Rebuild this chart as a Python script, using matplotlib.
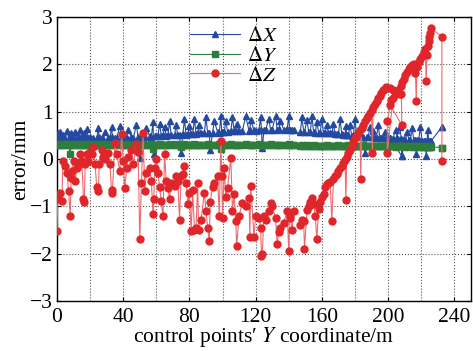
import numpy as np
import matplotlib
matplotlib.use("Agg")
import matplotlib.pyplot as plt
from matplotlib.ticker import MultipleLocator

plt.rcParams['font.family'] = ['Liberation Serif', 'DejaVu Serif']
plt.rcParams['mathtext.fontset'] = 'stix'

nan = np.nan

# control point Y coordinate (m), in survey order
coord_y = [
    0, 0.5, 1, 2, 3, 3.5, 5, 6, 7, 8, 8.5, 9, 10, 11, 12, 13, 14, 15, 16, 16.5, 17, 18, 19, 20,
    21, 22, 23, 24, 25, 25.5, 27, 28, 29, 31, 32, 33, 33.5, 35, 36, 38, 39, 40,
    41, 42, 43, 45, 46, 48, 49, 50, 51, 52, 53, 54, 56, 57, 58, 58.5, 59, 60,
    61, 62, 63, 64, 65, 66, 67, 68, 69, 71, 72, 73, 74, 75, 76, 77, 78, 79, 80,
    81, 82, 83, 84, 85, 85.5, 87, 89, 90, 91, 92, 92.5, 94, 95, 97, 98, 99, 99.5, 100,
    101, 102, 103, 105, 106, 107, 108, 108.5, 110, 112, 114, 116, 116.5, 117, 119, 120, 122, 123, 123.5, 124, 125,
    126, 128, 129, 130, 132, 133, 134, 135, 137, 139, 140, 140.5, 141, 142, 143,
    145, 147, 148, 149, 149.5, 151, 152, 153, 154, 155, 156, 157, 158, 159, 160, 161, 162, 163, 164,
    165, 166, 167, 168, 169, 170, 171, 172, 173, 174, 174.5, 175, 176, 177, 178, 179, 180, 181, 182, 183,
    183.5, 184, 185, 186, 187, 188, 189, 190, 190.5, 191, 192, 193, 194, 195, 196, 197, 198, 199,
    201, 203, 205, 207, 208, 208.3, 201, 202, 199.5, 199.5, 203, 204.5, 206, 207.5, 208.5, 209.5, 210.5, 211.5, 212.5, 213.5,
    214.5, 215.5, 216.5, 217, 217.5, 218.5, 219.5, 220.5, 221.5, 222.5, 223, 223.5, 224, 224.5, 225, 225.5, 226, 232.5, 232.5,
]

# errors (mm)
err_x = [
    0.45, 0.55, 0.42, 0.58, 0.43, 0.50, 0.42, 0.60, 0.44, 0.40, 0.55, 0.43, 0.45, 0.58, 0.42, 0.47, 0.62, 0.44, 0.43, 0.56, 0.45, 0.63, 0.44, 0.46,
    0.43, 0.45, 0.30, 0.44, 0.65, 0.46, 0.44, 0.42, 0.58, 0.45, 0.44, 0.68, 0.46, 0.45, 0.44, 0.70, 0.47, 0.45,
    0.46, 0.45, 0.62, 0.47, 0.44, 0.72, 0.46, 0.02, 0.48, 0.46, 0.47, 0.66, 0.48, 0.47, 0.78, 0.10, 0.49, 0.48,
    0.49, 0.75, 0.48, 0.50, 0.68, 0.49, 0.50, 0.80, 0.50, 0.51, 0.72, 0.50, 0.51, 0.13, 0.52, 0.84, 0.51, 0.52, 0.70,
    0.52, 0.53, 0.85, 0.53, 0.54, 0.72, 0.54, 0.55, 0.88, 0.55, 0.56, 0.20, 0.56, 0.80, 0.57, 0.56, 0.90, 0.57, 0.58,
    0.58, 0.80, 0.58, 0.59, 0.88, 0.59, 0.60, 0.74, 0.60, 0.60, 0.90, 0.60, 0.61, 0.82, 0.61, 0.60, 0.61, 0.88, 0.62, 0.23, 0.61,
    0.62, 0.85, 0.62, 0.62, 0.92, 0.62, 0.63, 0.80, 0.62, 0.63, 0.90, 0.62, 0.62, 0.62, 0.62,
    nan, 0.58, 0.88, 0.58, 0.58, 0.82, 0.57, 0.57, 0.90, 0.57, 0.56, 0.78, 0.56, 0.56, 0.85, 0.55, 0.55, 0.72, 0.55,
    0.54, 0.54, 0.75, 0.53, 0.53, 0.52, 0.85, 0.52, 0.51, 0.51, 0.70, 0.50, 0.50, 0.72, 0.49, 0.49, 0.85, 0.48, 0.48, 0.48,
    0.65, 0.47, 0.47, 0.12, 0.47, 0.46, 0.68, 0.46, 0.46, 0.60, 0.45, 0.45, 0.72, 0.45, 0.44, 0.44, 0.58, 0.44,
    0.44, 0.43, 0.43, 0.68, 0.43, 0.06, 0.44, 0.43, 0.44, 0.44, 0.43, 0.62, 0.42, 0.42, 0.06, 0.42, 0.41, 0.58, 0.41, 0.41,
    0.66, 0.40, 0.40, 0.10, 0.40, 0.40, 0.68, 0.39, 0.39, 0.39, 0.06, 0.39, 0.62, 0.38, 0.38, 0.38, 0.38, 0.68, 0.68,
]

err_y = [
    0.30, 0.31, 0.30, 0.29, 0.31, 0.30, 0.30, 0.31, 0.29, 0.10, 0.30, 0.31, 0.30, 0.30, 0.31, 0.29, 0.30, 0.31, 0.30, 0.30, 0.29, 0.31, 0.30, 0.30,
    0.30, 0.31, 0.30, 0.30, 0.29, 0.31, 0.30, 0.30, 0.31, 0.30, 0.30, 0.30, 0.31, 0.29, 0.30, 0.31, 0.30, 0.30,
    0.30, 0.31, 0.30, 0.30, 0.30, 0.31, 0.30, 0.29, 0.30, 0.31, 0.30, 0.30, 0.30, 0.31, 0.22, 0.30, 0.30, 0.30,
    0.30, 0.31, 0.30, 0.30, 0.30, 0.29, 0.30, 0.31, 0.30, 0.30, 0.31, 0.30, 0.30, 0.25, 0.30, 0.31, 0.30, 0.30, 0.30,
    0.30, 0.30, 0.31, 0.30, 0.30, 0.30, 0.29, 0.30, 0.30, 0.31, 0.30, 0.30, 0.30, 0.30, 0.30, 0.31, 0.22, 0.30, 0.30,
    0.30, 0.30, 0.30, 0.31, 0.30, 0.30, 0.30, 0.29, 0.30, 0.30, 0.31, 0.30, 0.30, 0.30, 0.29, 0.30, 0.31, 0.30, 0.30, 0.30, 0.30,
    0.30, 0.30, 0.31, 0.30, 0.30, 0.30, 0.29, 0.30, 0.30, 0.30, 0.31, 0.30, 0.30, 0.30, 0.30,
    nan, 0.28, 0.29, 0.28, 0.28, 0.29, 0.28, 0.28, 0.28, 0.29, 0.28, 0.28, 0.28, 0.27, 0.28, 0.28, 0.28, 0.29, 0.28,
    0.28, 0.28, 0.27, 0.28, 0.28, 0.29, 0.28, 0.28, 0.27, 0.28, 0.28, 0.28, 0.29, 0.28, 0.27, 0.28, 0.28, 0.28, 0.28, 0.27,
    0.28, 0.28, 0.29, 0.28, 0.28, 0.27, 0.28, 0.28, 0.28, 0.28, 0.27, 0.28, 0.28, 0.28, 0.27, 0.28, 0.28, 0.27,
    0.27, 0.27, 0.28, 0.27, 0.27, 0.27, 0.27, 0.28, 0.27, 0.27, 0.27, 0.26, 0.27, 0.27, 0.27, 0.26, 0.27, 0.27, 0.26, 0.27,
    0.27, 0.26, 0.27, 0.26, 0.27, 0.26, 0.27, 0.26, 0.26, 0.27, 0.26, 0.26, 0.27, 0.26, 0.26, 0.26, 0.26, 0.24, 0.24,
]

err_z = [
    -1.53, -0.85, -0.75, -0.72, -0.89, -0.05, -0.15, -0.30, -0.68, -1.21, -0.40, -0.25, -0.04, -0.47, -0.20, -0.10, 0.10, -0.05, -0.85, -0.92, -0.10, 0.10, -0.04, 0.15,
    0.10, 0.25, -0.10, -0.60, -0.68, -0.10, 0.20, 0.05, 0.00, 0.13, -0.10, -0.72, -0.65, 0.34, 0.10, -0.25, 0.52, -0.05,
    -0.61, -0.20, 0.05, 0.20, -0.10, 0.32, 0.15, -1.70, -0.50, 0.56, -0.68, -0.30, -0.20, -0.47, -1.17, -0.85, -0.20, 0.00,
    -0.30, -0.60, -0.89, -1.21, 0.10, -0.47, -0.61, -0.85, -0.50, -0.57, -0.35, -0.47, -1.28, -0.36, -0.32, -0.15, -0.50, -0.95, -0.72,
    -1.53, -0.66, -1.50, -1.45, -0.50, -1.50, -1.30, -0.72, -1.10, -1.46, -1.74, -0.90, -0.60, -0.50, -0.35, -1.20, 0.38, -0.37, -1.25,
    -0.19, -0.80, -0.61, 0.02, -1.10, -0.75, -1.32, -1.85, -1.20, -0.93, -1.00, -0.83, -1.64, -0.57, -1.64, -1.20, -1.25, -1.46, -2.06, -2.00, -1.20,
    -1.30, -1.10, -0.93, -1.00, -1.25, -1.79, -1.55, -1.46, -1.35, -1.10, -1.95, -1.20, -1.25, -1.50, -1.10,
    nan, -1.40, -1.30, -1.32, -1.91, -1.07, -1.00, -0.90, -0.83, -0.95, -1.21, -1.70, -1.05, -0.90, -0.80, -0.75, -0.60, -0.53, -0.50,
    -0.48, -1.32, -0.42, -0.36, -0.32, -0.26, -0.20, -0.14, -0.08, -0.02, -0.87, 0.04, 0.12, 0.20, 0.28, 0.36, 0.44, 0.50, 0.56, 0.62,
    -0.43, 0.66, 0.72, 0.80, 0.86, 0.92, 0.98, 1.04, 0.13, 1.10, 1.16, 1.22, 1.28, 1.34, 1.40, 1.45, 1.49, 1.53,
    1.50, 1.46, 1.42, 1.38, 1.37, 0.72, 1.15, 1.25, 0.80, 0.12, 1.30, 1.38, 1.46, 1.54, 1.62, 1.70, 1.78, 1.84, 1.90, 1.95,
    1.98, 2.02, 1.83, 1.23, 1.95, 2.06, 2.12, 2.18, 2.26, 2.32, 1.66, 2.19, 2.40, 2.50, 2.58, 2.66, 2.77, 2.58, -0.04,
]

x_ticks = [0, 40, 80, 120, 160, 200, 240]
y_ticks = [-3, -2, -1, 0, 1, 2, 3]

fig = plt.figure(figsize=(4.73, 3.51), dpi=100)
ax = fig.add_axes([0.1205, 0.143, 0.875, 0.808])

blue = '#2349a0'
green = '#2e7d3a'
red = '#e0262a'

ax.plot(coord_y, err_x, color=blue, lw=0.8, marker='^', ms=4.2,
        mec=blue, mfc=blue, label=r'$\Delta X$', zorder=3)
ax.plot(coord_y, err_y, color=green, lw=0.8, marker='s', ms=3.8,
        mec=green, mfc=green, label=r'$\Delta Y$', zorder=3)
ax.plot(coord_y, err_z, color='#ee6a6e', lw=0.8, marker='o', ms=5,
        mec=red, mfc=red, label=r'$\Delta Z$', zorder=4)

ax.set_xlim(0, 250)
ax.set_ylim(-3, 3)
ax.set_xticks(x_ticks)
ax.set_yticks(y_ticks)
ax.xaxis.set_minor_locator(MultipleLocator(20))
ax.grid(True, which='both', axis='x', linestyle=':', color='#555555', lw=0.8)
ax.grid(True, which='major', axis='y', linestyle=':', color='#555555', lw=0.8)
ax.tick_params(which='both', direction='in', top=True, right=True, labelsize=15.5, length=3)
ax.tick_params(axis='x', pad=5)
ax.tick_params(axis='y', pad=3)
ax.tick_params(which='minor', length=0)
for s in ax.spines.values():
    s.set_linewidth(1.0)

ax.set_xlabel("control points\u2032 $Y$ coordinate/m", fontsize=15.5, labelpad=-1)
ax.set_ylabel("error/mm", fontsize=15.5, labelpad=0)

ax.legend(loc='upper left', bbox_to_anchor=(0.29, 1.01), frameon=False,
          fontsize=15, handlelength=2.4, handletextpad=0.35, labelspacing=0.0,
          borderaxespad=0.2)

fig.savefig('out.png', dpi=100)
